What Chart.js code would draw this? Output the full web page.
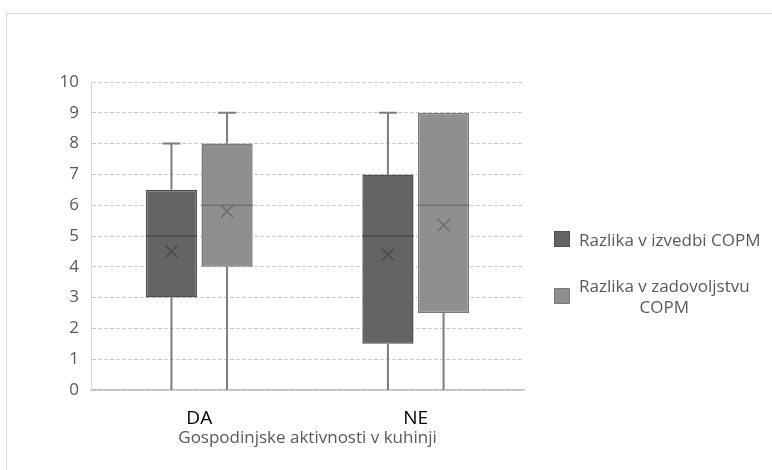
<!DOCTYPE html>
<html>
<head>
<meta charset="utf-8">
<script src="https://cdn.jsdelivr.net/npm/chart.js@4/dist/chart.umd.min.js"></script>
<style>
  html, body { margin: 0; padding: 0; background: #fff; }
  #wrap { position: relative; width: 772px; height: 470px; overflow: hidden; }
  #frame { position: absolute; left: 6px; top: 13px; width: 800px; height: 500px; border: 1px solid #d9d9d9; }
  canvas { position: absolute; left: 0; top: 0; }
</style>
</head>
<body>
<div id="wrap">
  <div id="frame"></div>
  <canvas id="chart" width="772" height="470"></canvas>
</div>
<script>
const FONT = "'Open Sans', sans-serif";

const categories = ["DA", "NE"];
const seriesNames = ["Razlika v izvedbi COPM", "Razlika v zadovoljstvu COPM"];
const seriesColors = ["#646464", "#8f8f8f"];
const seriesBorders = ["#505050", "#7a7a7a"];

// box plot values, one entry per category
const izvedbaMin = [0, 0];
const izvedbaQ1 = [3, 1.5];
const izvedbaMedian = [5, 5];
const izvedbaQ3 = [6.5, 7];
const izvedbaMax = [8, 9];
const izvedbaMean = [4.5, 4.4];

const zadovoljstvoMin = [0, 0];
const zadovoljstvoQ1 = [4, 2.5];
const zadovoljstvoMedian = [6, 6];
const zadovoljstvoQ3 = [8, 9];
const zadovoljstvoMax = [9, 9];
const zadovoljstvoMean = [5.8, 5.35];

const yTicks = [0, 1, 2, 3, 4, 5, 6, 7, 8, 9, 10];

const stats = [
  { min: izvedbaMin, q1: izvedbaQ1, med: izvedbaMedian, q3: izvedbaQ3, max: izvedbaMax, mean: izvedbaMean },
  { min: zadovoljstvoMin, q1: zadovoljstvoQ1, med: zadovoljstvoMedian, q3: zadovoljstvoQ3, max: zadovoljstvoMax, mean: zadovoljstvoMean },
];

// whiskers, medians and mean markers on top of the floating bars
const boxPlotPlugin = {
  id: "boxPlot",
  afterDatasetsDraw(chart) {
    const ctx = chart.ctx;
    const y = chart.scales.y;
    ctx.save();
    stats.forEach((s, di) => {
      const meta = chart.getDatasetMeta(di);
      meta.data.forEach((bar, i) => {
        const x = bar.x;
        const half = bar.width / 2;
        // whiskers
        ctx.strokeStyle = "#7d7d7d";
        ctx.lineWidth = 2;
        ctx.beginPath();
        if (s.max[i] > s.q3[i]) {
          ctx.moveTo(x, y.getPixelForValue(s.q3[i]));
          ctx.lineTo(x, y.getPixelForValue(s.max[i]));
          ctx.moveTo(x - 9, y.getPixelForValue(s.max[i]));
          ctx.lineTo(x + 9, y.getPixelForValue(s.max[i]));
        }
        if (s.min[i] < s.q1[i]) {
          ctx.moveTo(x, y.getPixelForValue(s.q1[i]));
          ctx.lineTo(x, y.getPixelForValue(s.min[i]));
        }
        ctx.stroke();
        // median
        ctx.strokeStyle = di === 0 ? "#4a4a4a" : "#707070";
        ctx.lineWidth = 1.5;
        ctx.beginPath();
        const my = y.getPixelForValue(s.med[i]);
        ctx.moveTo(x - half, my);
        ctx.lineTo(x + half, my);
        ctx.stroke();
        // mean marker
        const cy = y.getPixelForValue(s.mean[i]);
        ctx.strokeStyle = di === 0 ? "#4a4a4a" : "#6c6c6c";
        ctx.lineWidth = 1.5;
        ctx.beginPath();
        ctx.moveTo(x - 6, cy - 6);
        ctx.lineTo(x + 6, cy + 6);
        ctx.moveTo(x + 6, cy - 6);
        ctx.lineTo(x - 6, cy + 6);
        ctx.stroke();
      });
    });
    ctx.restore();
  },
};

// legend on the right, with wrapped labels
const sideLegend = {
  id: "sideLegend",
  afterDraw(chart) {
    const ctx = chart.ctx;
    ctx.save();
    ctx.font = "17px " + FONT;
    ctx.textBaseline = "middle";
    const left = 554, textLeft = 579, maxW = 190;
    const centers = [239, 296];
    seriesNames.forEach((name, i) => {
      // wrap words
      const lines = [];
      let cur = "";
      name.split(" ").forEach(w => {
        const t = cur ? cur + " " + w : w;
        if (ctx.measureText(t).width > maxW && cur) { lines.push(cur); cur = w; }
        else cur = t;
      });
      lines.push(cur);
      const cy = centers[i];
      ctx.fillStyle = seriesColors[i];
      ctx.strokeStyle = seriesBorders[i];
      ctx.lineWidth = 1;
      ctx.fillRect(left, cy - 8, 16, 16);
      ctx.strokeRect(left + 0.5, cy - 7.5, 15, 15);
      ctx.fillStyle = "#595959";
      const lh = 21;
      const widest = Math.max(...lines.map(l => ctx.measureText(l).width));
      lines.forEach((l, k) => {
        const ly = cy + (k - (lines.length - 1) / 2) * lh + 2;
        if (lines.length > 1) {
          ctx.textAlign = "center";
          ctx.fillText(l, textLeft + widest / 2, ly);
        } else {
          ctx.textAlign = "left";
          ctx.fillText(l, textLeft, ly);
        }
      });
    });
    ctx.restore();
  },
};

new Chart(document.getElementById("chart").getContext("2d"), {
  type: "bar",
  data: {
    labels: categories,
    datasets: seriesNames.map((name, i) => ({
      label: name,
      data: categories.map((c, k) => [stats[i].q1[k], stats[i].q3[k]]),
      backgroundColor: seriesColors[i],
      borderColor: seriesBorders[i],
      borderWidth: 1.5,
      borderSkipped: false,
      categoryPercentage: 0.514,
      barPercentage: 0.92,
    })),
  },
  options: {
    responsive: false,
    animation: false,
    layout: { padding: { left: 0, right: 248, top: 82, bottom: 0 } },
    plugins: { legend: { display: false }, tooltip: { enabled: false } },
    scales: {
      x: {
        grid: { display: false, drawTicks: false },
        border: { display: true, color: "#bfbfbf", width: 1.5 },
        ticks: { color: "#000", font: { size: 19, family: FONT }, padding: 17 },
        title: {
          display: true,
          text: "Gospodinjske aktivnosti v kuhinji",
          color: "#595959",
          font: { size: 17, family: FONT },
          padding: { top: 4, bottom: 22 },
        },
        afterFit: s => { s.height = 80; },
      },
      y: {
        min: 0,
        max: 10,
        afterBuildTicks: s => { s.ticks = yTicks.map(v => ({ value: v })); },
        ticks: { color: "#595959", font: { size: 17, family: FONT }, padding: 12 },
        grid: { color: "#cccccc", drawTicks: false, lineWidth: 1 },
        border: { display: true, color: "#d9d9d9", dash: [4, 2] },
        afterFit: s => { s.width = 91; },
      },
    },
  },
  plugins: [boxPlotPlugin, sideLegend],
});
</script>
</body>
</html>
